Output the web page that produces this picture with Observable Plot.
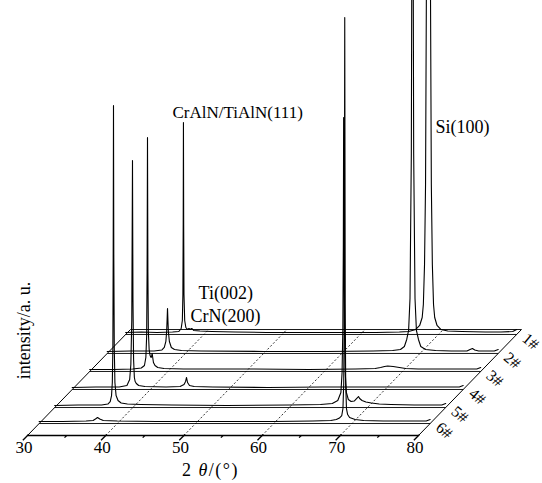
<!DOCTYPE html>
<html><head><meta charset="utf-8">
<script src="https://cdn.jsdelivr.net/npm/d3@7"></script>
<script src="https://cdn.jsdelivr.net/npm/@observablehq/plot@0.6"></script>
<style>body{margin:0;background:#fff;}</style>
</head><body><div id="chart"></div>
<script>
// series names (back to front) and their position along the depth axis (0 = front, 1 = back)
const seriesNames = ["1#", "2#", "3#", "4#", "5#", "6#"];
const depths = [0.953, 0.774, 0.604, 0.434, 0.264, 0.113];
const xTicks = [30, 40, 50, 60, 70, 80];
const minorTicks = [35, 45, 55, 65, 75];
const gridTicks = [40, 50, 60, 70];

// [2θ, intensity (a.u.)]
const s1 = [[30,2],[32,2.5],[34,2],[36,2.5],[36.8,3],[37.1,6],[37.25,14],[37.32,40],[37.36,110],[37.39,212],[37.42,110],[37.46,40],[37.55,14],[37.7,7],[37.9,5],[38.1,6],[38.25,5],[38.45,6],[38.7,4],[39.5,3.5],[41,3],[44,2.5],[48,2],[55,2],[62,2],[65,2.5],[66.2,3],[67.1,5],[67.6,9],[67.92,17],[68.07,30],[68.22,70],[68.35,150],[68.45,330],[68.57,500],[68.67,900],[68.72,1200],[68.77,900],[68.87,500],[68.99,330],[69.09,150],[69.22,70],[69.37,30],[69.52,17],[69.82,9],[70.3,5],[71.2,3.5],[73,3],[76,2.5],[78,2.5],[79.5,3],[80,5]];
const s2 = [[30,2],[33,2.5],[36,2.5],[37.0,3.5],[37.3,6],[37.5,12],[37.6,22],[37.66,34],[37.71,45],[37.76,34],[37.82,22],[37.95,12],[38.2,6],[38.6,4],[39.5,3],[42,2.5],[50,2],[58,2],[64,2.5],[66.5,3],[67.5,4],[68.0,7],[68.3,14],[68.54,23],[68.72,55],[68.89,200],[68.96,420],[69.01,700],[69.04,1000],[69.07,700],[69.12,420],[69.19,200],[69.36,55],[69.54,23],[69.8,14],[70.1,7],[70.7,4],[72,3],[74,2.5],[76.0,2.5],[76.4,4],[76.7,5],[77.0,3.5],[77.5,2.5],[79.5,2.5],[80,4]];
const s3 = [[30,2],[33,2],[35.5,2.5],[36.6,3.5],[37.0,6],[37.18,14],[37.28,35],[37.34,100],[37.39,234],[37.44,100],[37.5,40],[37.6,22],[37.72,16],[37.85,14],[37.93,16],[37.99,18],[38.04,15],[38.15,9],[38.35,6],[38.7,4],[39.5,3],[42,2.5],[50,2.5],[58,2],[64,2.5],[66.5,3],[67.2,4],[67.7,5],[68.1,5.5],[68.8,5],[69.6,4],[70.4,3],[72,2.5],[76,2.5],[79.5,2.5],[80,4]];
const s4 = [[30,2],[33,2.5],[36,2.5],[37.0,4],[37.35,10],[37.5,25],[37.62,70],[37.71,229],[37.77,90],[37.85,30],[37.95,12],[38.05,8],[38.2,6],[38.5,4],[39.3,3],[42,2.5],[43.8,3],[44.3,5],[44.5,8],[44.62,12],[44.75,7],[45.0,4],[45.6,3],[48,2.5],[55,2],[62,2.5],[66,2.5],[70,2.5],[75,2.5],[79.5,2.5],[80,4]];
const s5 = [[30,2],[33,2.5],[36,2.5],[36.8,3.5],[37.1,6],[37.27,12],[37.37,25],[37.44,60],[37.48,150],[37.52,302],[37.56,150],[37.62,60],[37.7,25],[37.85,12],[38.1,7],[38.5,4.5],[39.3,3.5],[41,3],[45,2.5],[52,2],[60,2.5],[64,3],[65.5,4],[66.2,7],[66.6,15],[66.75,35],[66.85,80],[66.91,160],[66.95,290],[66.99,160],[67.05,80],[67.15,35],[67.3,15],[67.55,8],[67.9,6],[68.3,6.5],[68.6,9],[68.85,11],[69.0,9],[69.3,7],[69.8,5.5],[70.5,4.5],[71.5,3.5],[73,3],[76,2.5],[79.5,2.5],[80,4]];
const s6 = [[30,2],[33,2],[36,2.5],[36.9,3],[37.2,4.5],[37.47,6],[37.75,4.5],[38.2,3],[40,2.5],[45,2],[52,2],[60,2],[65,2.5],[67.3,3],[68.0,4],[68.4,5.5],[68.7,8],[68.85,15],[68.95,40],[69.02,120],[69.08,406],[69.14,120],[69.2,40],[69.3,15],[69.45,9],[69.7,6],[70.4,4],[71.5,3],[74,2.5],[78,2.5],[79.5,2.5],[80,4]];
const traces = [s1, s2, s3, s4, s5, s6];

// peak labels, placed in front-plane data units (2θ, intensity)
const annotations = [
  {label: "CrAlN/TiAlN(111)", x: 48.54, y: 323, size: 17},
  {label: "Ti(002)", x: 51.87, y: 142, size: 18},
  {label: "CrN(200)", x: 50.84, y: 119, size: 18},
  {label: "Si(100)", x: 82.17, y: 308, size: 18}
];
const yLabel = "intensity/a. u.";
const xLabel = "2 θ/(°)";

// oblique projection of the depth axis, in data units
const DX = 13.17, DY = 106;

const rows = traces.flatMap((s, i) => s.map(([t, v]) => ({
  series: seriesNames[i], x: t + DX * depths[i], y: DY * depths[i] + v
})));

const font = "'Liberation Serif', 'Times New Roman', serif";

const chart = Plot.plot({
  width: 542, height: 483,
  marginLeft: 27, marginRight: 124, marginTop: 0, marginBottom: 48,
  x: {domain: [30, 80]},
  y: {domain: [0, 435], axis: null},
  style: {fontFamily: font, background: "#fff", color: "#000"},
  marks: [
    Plot.link(depths, {x1: d => 30 + DX * d, x2: d => 80 + DX * d, y1: d => DY * d, y2: d => DY * d, stroke: "#000", strokeWidth: 0.9}),
    Plot.link([30, 80], {x1: t => t, y1: 0, x2: t => t + DX, y2: DY, stroke: "#000", strokeWidth: 1}),
    Plot.link([1], {x1: 30 + DX, x2: 80 + DX, y1: DY, y2: DY, stroke: "#000", strokeWidth: 0.9}),
    Plot.link([0], {x1: 30, x2: 80, y1: 0, y2: 0, stroke: "#000", strokeWidth: 1.4}),
    Plot.link(gridTicks, {x1: t => t, y1: 0, x2: t => t + DX, y2: DY, stroke: "#000", strokeWidth: 0.8, strokeDasharray: "2,2"}),
    Plot.link(xTicks, {x1: t => t - DX * 0.045, y1: -DY * 0.045, x2: t => t + DX * 0.01, y2: DY * 0.01, stroke: "#000", strokeWidth: 1.3}),
    Plot.link(minorTicks, {x1: t => t - DX * 0.02, y1: -DY * 0.02, x2: t => t, y2: 0, stroke: "#000", strokeWidth: 1.3}),
    Plot.axisX({ticks: xTicks, tickSize: 0, tickPadding: 5, dx: -3.5, fontSize: 17, label: null}),
    Plot.line(rows, {x: "x", y: "y", z: "series", stroke: "#000", strokeWidth: 1.1, curve: "linear"}),
    Plot.text(seriesNames, {x: (n, i) => 80 + DX * depths[i], y: (n, i) => DY * depths[i], text: d => d, rotate: 40, dx: 14, dy: 7, fontSize: 16, fill: "#000"}),
    Plot.text(annotations, {x: "x", y: "y", text: "label", fontSize: d => d.size, textAnchor: "start", lineAnchor: "middle", fill: "#000"}),
    Plot.text([yLabel], {x: 30, y: 105, text: d => d, rotate: -90, dx: -3, fontSize: 18, fill: "#000"}),
    Plot.text([xLabel], {x: 53.4, y: -35, text: d => d, fontSize: 18, fill: "#000"})
  ]
});
document.getElementById("chart").appendChild(chart);
// italic theta in the axis title
chart.querySelectorAll("text").forEach(t => {
  if (t.textContent === xLabel) {
    t.innerHTML = '2 <tspan font-style="italic">θ</tspan>/(°)';
    t.setAttribute("letter-spacing", "1.5");
  }
});
</script>
</body></html>
